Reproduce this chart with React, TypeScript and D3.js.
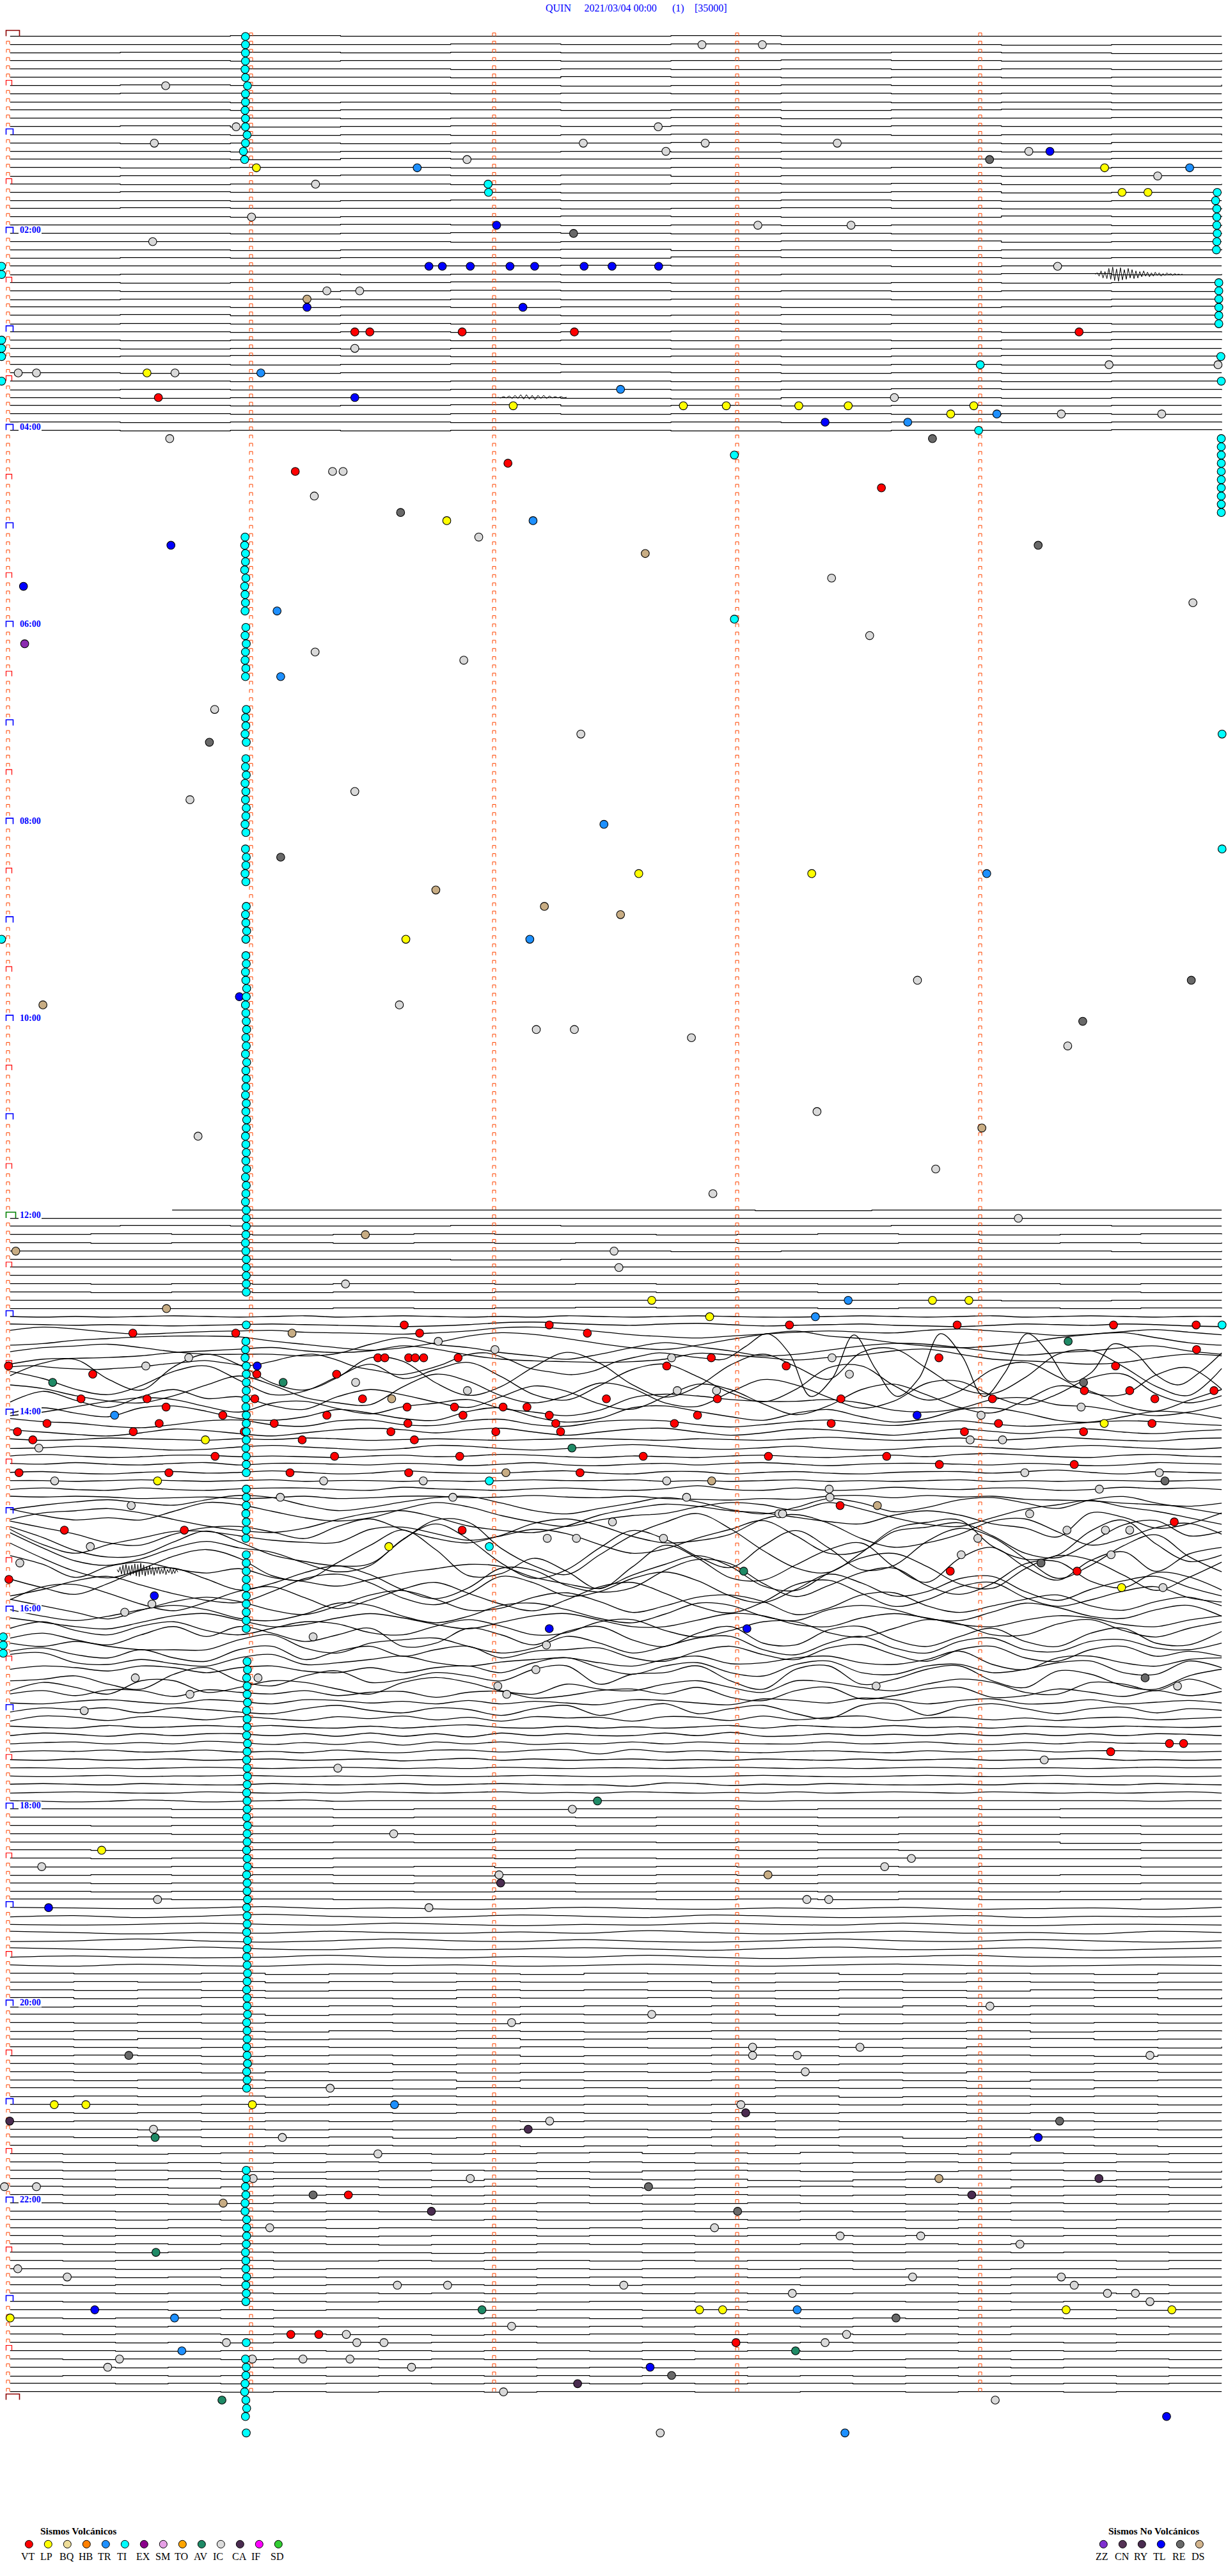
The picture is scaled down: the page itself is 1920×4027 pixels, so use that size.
import React from 'react';
import * as d3 from 'd3';

type Ev = [number, number]; // [row (5 min lines), seconds into the row]

const W = 1920;
const H = 4027;
const SERIF = '"Liberation Serif", serif';

// one trace line every 5 minutes, from 00:00 to 24:00
const ROW_COUNT = 289;
const hourLabels = ['02:00', '04:00', '06:00', '08:00', '10:00', '12:00', '14:00', '16:00', '18:00', '20:00', '22:00'];
const tickMinutes = [0, 1, 2, 3, 4];

const volcanicNames = ['VT', 'LP', 'BQ', 'HB', 'TR', 'TI', 'EX', 'SM', 'TO', 'AV', 'IC', 'CA', 'IF', 'SD'];
const volcanicColors = ['#ff0000', '#ffff00', '#eedd99', '#ff8000', '#1e90ff', '#00ffff', '#8b008b', '#e6a0e6', '#ffa500', '#1f8a66', '#dcdcdc', '#4a2c50', '#ff00ff', '#32cd32'];
const otherNames = ['ZZ', 'CN', 'RY', 'TL', 'RE', 'DS'];
const otherColors = ['#7f2fd0', '#553355', '#4a2c50', '#0000ff', '#696969', '#d2b48c'];

// small step offsets of the quiet lines, 00:00 to 04:00
const earlyTraces: number[][] = [
  [0, 0, -1, 0, 0, 0, -1, 0, 0, 0, 0, 0],
  [0, 0, 0, 0, -1, 0, -1, 0, 0, 1, 0, 1],
  [0, -1, -1, 0, -1, 0, 0, 0, -1, 0, 1, 0],
  [0, 0, 1, 0, 0, 1, 0, -1, 0, 1, 1, 0],
  [0, 0, 0, 0, 1, 0, 1, 0, 1, 0, 1, 0],
  [0, 0, 0, 0, 1, -1, 0, 1, 0, 1, 0, 0],
  [0, -1, 0, 0, 0, 1, 0, -1, 0, 0, 1, -1],
  [0, -1, -1, -1, 0, -1, 0, -1, 0, -1, 0, 0],
  [0, 0, 1, 0, 0, 1, 1, 0, 1, 0, 1, 0],
  [0, 0, 1, 0, 0, 1, 0, 1, 0, -1, 0, -1],
  [0, 0, 0, 1, 0, 0, -1, 1, 0, 0, -1, 1],
  [0, -1, 1, 0, -1, 0, -1, 0, -1, 0, 0, 1],
  [0, 0, 1, 0, 1, 0, -1, 0, 1, 0, -1, 1],
  [0, 1, 0, 1, 0, 0, -1, 0, 0, 1, -1, 0],
  [0, 0, 1, 0, 1, 0, 1, 0, 0, 1, 0, -1],
  [0, 0, 1, -1, 0, 0, -1, 0, 0, 0, -1, 0],
  [0, 1, 0, 0, 1, 1, 0, 1, 0, 1, 0, 0],
  [1, 0, 0, -1, 0, -1, 1, 0, 0, 1, 0, 0],
  [0, 1, 0, 0, 1, 0, -1, 0, -1, 1, 1, 0],
  [0, -1, 0, 0, 0, 1, 1, 0, -1, 1, 0, 0],
  [0, 0, 1, 0, -1, 0, 0, -1, 0, 1, 0, 0],
  [0, -1, 0, 0, 0, 1, 0, -1, 0, 1, 1, 0],
  [0, 0, 1, 0, 0, -1, 0, 1, 1, -1, 0, -1],
  [0, 0, 0, -1, 0, 1, 0, 1, 0, 0, 1, 0],
  [0, 0, 1, 0, -1, 0, 1, 0, 1, 1, 0, 1],
  [0, 0, 0, 0, 1, 0, 0, -1, -1, 1, 0, 0],
  [0, 0, 1, 0, 0, -1, 1, 0, 1, 0, 0, -1],
  [1, 0, 1, 0, 0, 1, -1, 0, 0, 1, 0, 0],
  [0, 0, 0, 0, 0, -1, 0, 0, 1, 0, 0, 0],
  [1, 0, 0, 1, 0, 1, 1, 0, 0, -1, 1, 0],
  [0, 1, 0, 0, -1, 0, 1, 1, 0, 1, 0, 0],
  [0, 1, 1, 0, -1, 0, 1, 0, 1, 0, 1, 1],
  [1, 0, 0, 1, 0, 1, 0, 0, 1, 1, 0, 0],
  [0, 0, 1, 0, 1, 0, 0, 1, 1, 0, -1, 0],
  [0, -1, 1, 0, 0, 1, 0, -1, 0, 0, 0, 1],
  [1, 0, 1, 0, 1, 0, 0, 1, 0, 0, 1, 0],
  [0, 0, 1, 0, 1, 0, -1, 0, 0, 1, 0, 1],
  [0, 1, 0, 0, 1, 0, 1, 0, 1, 0, -1, 0],
  [0, 1, 0, 1, 0, 0, 1, 1, 0, 1, 0, 0],
  [1, 0, -1, 0, 1, 1, 0, 1, 0, -1, 0, 0],
  [0, 0, 1, 0, -1, 0, 0, 1, 0, 1, 1, 0],
  [0, 1, 1, 0, 0, -1, 0, 1, 0, 1, 0, 0],
  [0, 0, 1, 1, 0, 0, 1, 0, 0, 1, 0, 1],
  [1, 0, 1, 1, 0, 0, 1, 0, -1, 0, 0, 1],
  [0, 1, 0, 0, 0, 1, 2, 0, 0, 1, 0, 0],
  [0, 0, 1, 0, -1, 1, 0, 1, 0, 1, 0, 0],
  [0, 0, 1, 1, 0, 1, 0, 0, 1, 0, 1, 0],
  [0, 1, 0, 0, 1, 1, 0, 1, 0, 1, 0, 1],
  [0, 1, 0, 1, 0, 0, 1, 1, 0, 0, -1, 0],
];

// 11:55 starts late in the line, then the quiet lines up to 12:55
const noonStartSec = 40.6;
const noonTraces: number[][] = [
  [0, 0, 0, 0, 0, 1, 0, 0, 0, 0],
  [0, 0, 0, 0, 0, 0, 0, 0, 0, 0],
  [0, -1, 0, 0, -1, 0, 0, 0, -1, -1, 0, 0],
  [0, -1, 0, 1, 0, -1, 0, 0, 1, 0, -1, 0, 1, 0, -1, 0],
  [0, 1, 0, 0, 1, 0, 1, 0, 0, 1, 1, 0, 1, 0, 1, 0],
  [0, 0, 0, 0, 0, 0, 1, 0, 0, 0, 1, 0],
  [0, 0, 0, 0, 1, 0, 0, 0, 0, 0, 0, 0],
  [0, 0, 0, 0, 0, 0, 0, 0, 0, 0, 0, -1],
  [0, 0, 0, 0, 0, 0, 0, 0, 0, 0, 0, -1],
  [0, 1, 0, 1, 0, 0, 1, 0, 1, 0, 1, 0, 0, 1, 0, 0],
  [0, 1, 0, 1, 0, 1, 0, 0, 1, 0, 1, 1, 0, 0, 1, 0],
  [0, 0, 0, 0, 0, 0, 0, 0, 0, 1, 0, 0],
  [0, 0, 0, 0, -1, 0, -1, -2, -1, -1, 0, -1, -1, 0, -1, 0],
];

// smooth wave lines from 13:00 on, offsets in px at even steps along the line
const waveTraces: number[][] = [
  [0, 1, 0, 1, 0, -1, 0, 1, 0, -1, 1, 0, -1, 0, 1, 0, 1, -1, 0, 1, 0, -1, 0, 1, 1, 0, -1, 0, 1, 0, -1, 1, 0, -1, 0, 1, 0, 0],
  [-1, 0, 1, 0, 1, 2, 1, 0, -1, 0, 1, 2, 3, 2, 0, -3, -4, -2, 0, 1, -1, -2, 0, 2, 1, 0, -1, 1, 2, 3, 1, -1, 0, 1, -1, 0, 2, 3],
  [-4, -9, -6, -1, 2, 0, -2, -3, -4, -1, 0, 1, 2, 0, -3, -8, -9, -6, -2, 3, 6, 8, 5, 2, -1, -3, -1, 0, -4, -6, -3, 0, 4, 2, -2, -5, -1, 3],
  [5, 3, -1, -3, -5, -6, -6, -5, 0, 4, 8, 11, 8, 2, -6, -10, -8, -3, 3, 8, 10, 5, -2, -8, -12, -6, -3, 2, 6, 8, 6, 2, -4, -8, -10, -4, 2, 5],
  [3, -2, -4, -6, -2, 3, 6, 6, 6, 8, 5, -6, -14, -6, -2, 4, 8, 12, 6, -2, -8, -3, 2, 8, 6, 1, -4, -7, -6, -2, 3, 7, 4, 2, -2, -4, 2, 6],
  [8, 2, 1, 0, -2, -6, -8, -10, -12, -8, -6, -8, -14, -10, -3, 2, 4, 5, 6, 5, 2, -5, -3, 0, 3, 0, -3, -8, -10, -4, 2, 4, 6, 8, 6, 0, -4, -2],
  [2, 0, 3, 5, 6, 4, 2, -2, -5, -8, -4, 0, -6, -14, -18, -10, 2, 8, 14, 8, -2, -16, -20, -10, 4, 10, 14, 8, -6, -14, -20, -16, -12, -10, -30, -50, -20, 48, 20, -48, 5, 48, 20, -50, -15, 48, 10, -50, -20, 25, 10, -34, -20, 15, 30, 10, -20],
  [2, -12, -16, 6, 18, -8, -22, -10, 10, 18, 4, -18, -14, 10, 24, 14, -8, -24, -12, 12, 26, 14, -10, -22, -8, 6, -24, -28, -6, 16, 22, 4, -22, -26, -8, 14, 24, -6],
  [-12, -4, 8, 14, 4, -12, -18, -2, 14, 10, -6, -20, -4, -14, -22, -6, 14, 20, 4, -14, -20, -6, 12, 22, 8, -16, -18, 4, 20, 10, -14, -22, -6, 12, 14, -8, -16, 8],
  [-6, -2, 6, 12, 14, 6, -6, -16, -6, 8, 14, 16, -4, -18, -10, 6, 14, 6, -8, -2, 14, 18, 2, -12, -6, 8, 20, 12, -8, -10, 6, 16, 4, -14, -18, 4, 14, 6],
  [4, -8, 2, 10, -2, -10, 0, -2, 8, 12, -2, -10, -4, 4, 10, -2, -14, -8, 6, 12, -2, -16, -10, 6, 18, 8, -10, -16, -4, 10, 16, 2, -14, -8, 8, 14, 2, -10],
  [10, 6, 0, -6, -10, -8, 0, 6, -4, -6, 2, 8, 0, -4, -8, 2, 6, 10, 4, -10, -14, -12, -8, -6, -6, -8, -4, 4, 6, 2, -8, -10, -2, 0, 6, 10, 6, -2],
  [-2, -8, -2, 2, -8, -10, -4, 4, 6, 2, -6, -2, 4, 6, -4, -8, 2, 8, 4, -8, -10, -4, 2, 6, -2, -6, 2, 8, 4, -6, -8, -2, 6, 8, 2, -4, -2, 4],
  [-6, -2, 0, 4, 6, 2, -3, -4, 2, 4, -3, -4, 2, 3, -3, -5, 2, 4, -2, -4, -3, 2, 5, 2, -2, -4, 0, 3, -1, -3, 1, 4, 2, -1, -3, -2, 1, 3],
  [-2, 1, 4, 6, 2, -3, -1, 3, 6, 2, -2, -4, -2, 2, -2, -4, 1, 5, 1, -3, -4, 1, 5, 2, -3, -2, 2, 5, 1, -3, 0, 3, -1, -3, 1, 3, 0, -2],
  [-1, 1, 0, -2, -1, 0, 1, -1, 0, -2, -1, 1, 0, -1, 0, 1, 0, -1, -1, 0, 1, -1, 0, 1, -1, -3, -1, 1, 0, -2, 1, -1, -3, -1, 1, 2, -1, -2],
  [1, 0, -2, -1, 1, 3, 2, -1, -3, -1, 1, 3, 1, -3, -2, 1, 3, 1, -2, -4, -2, 1, 2, 0, -2, 1, 3, 2, -1, -2, 0, 2, -1, -3, -1, 1, 2, 0],
  [0, -2, 0, 2, 1, -1, -1, 1, 0, 1, 2, 0, -1, 1, 0, -2, -1, 1, 2, 0, 1, 2, 0, -1, 1, 2, 0, -1, 1, -2, -3, -1, 1, 2, -1, -2, 0, 1],
  [-1, 0, -2, 0, 1, -1, -2, 1, -1, -1, 0, 1, -1, 0, 2, 0, -2, 1, 2, 0, -1, 1, -1, -2, 0, 2, 0, -1, -1, 0, 1, -1, 0, 2, 1, -2, -1, 0],
  [0, -1, 1, 2, 0, -1, 1, 0, -2, 0, 2, 1, -2, 0, 1, 1, -1, -2, 1, 2, -1, -1, 2, 0, -1, 1, 2, 0, -1, -1, 1, -1, -3, 0, 2, -1, 0, 1],
  [0, 0, 1, 0, -1, 0, 1, 0, -1, 1, 0, 0, 1, 0, 1, 0, -1, 0, 0, -1, 1, 0, 1, 0, -1, 1, 0, 1, 0, -1, 1, 0, 1, 0, 0, 1, 0, -1],
  [1, -1, 1, 2, -1, 1, 2, 0, -1, -1, 1, 2, -2, 0, 1, 2, 0, -1, 1, 2, 0, -4, 1, 2, -1, 2, 1, -2, 0, 1, -1, -1, 2, 1, -2, 0, -1, 1],
  [-1, 0, -1, 0, 2, 1, 0, 2, 1, -1, 2, 1, -1, -1, 1, 0, -2, 0, 1, -1, 2, 3, 4, 2, 3, -1, -2, 1, -2, 0, -1, 3, 4, 5, 8, 10, 12, 8],
  [4, 0, -3, -5, -2, 0, -5, -9, -7, 0, 5, 2, -3, -7, -8, -2, 5, 8, 3, -2, -7, -3, 4, 8, 2, -6, -2, 6, 2, -5, -7, -2, 3, -5, -8, -2, 3, 8],
  [-4, 2, 6, 4, 6, -2, -10, -8, -2, 4, 7, 4, -4, -10, -6, 2, 8, 12, 6, 2, 0, -6, -10, -8, -3, -10, -4, 4, 10, 12, 4, -4, -8, -12, -6, -2, 4, 10],
  [-2, -8, -10, -12, -8, -2, 4, 8, 10, 6, -2, -8, -10, -4, 4, 8, 10, 4, -6, -12, -16, -14, -10, -8, -4, 0, 2, -6, -10, -6, 2, 6, 14, -8, -4, 6, 2, -8],
  [-8, -2, 4, 12, 14, 4, -2, -3, 2, 8, -3, -10, 0, 8, 12, 5, -6, -10, -4, 6, 12, 10, 4, -10, -14, -6, 8, 16, 12, 4, -8, -10, 2, 14, 8, -2, -6, 4],
  [-8, 6, 14, 6, 0, -6, -6, -2, 2, 4, 4, -8, -10, -4, 2, -2, -8, -4, 6, 14, 10, 0, -8, -16, -2, 14, 12, -6, -10, -14, -2, 14, 18, 4, -12, -16, -2, -6],
  [-18, -8, 4, 10, 8, -4, -14, -4, 8, 14, 18, 16, -6, -24, -22, 2, 18, 26, 8, -10, -22, -30, -16, 4, 20, 24, 6, -16, -22, -24, 0, 12, 8, -14, -24, -2, 14, 8],
  [-20, -6, 6, 10, 4, -6, -12, -6, -2, 8, 16, 10, -14, -28, -14, 8, 22, 14, -6, -22, -14, 2, 12, -8, -22, -6, 14, 10, -12, -24, -16, 4, 22, 10, -8, -18, 2, 16],
  [-18, -4, 8, 14, 6, -6, -12, -4, 12, 16, 0, -16, -30, -12, 12, 10, -4, 8, 24, 4, -16, -4, 14, 16, 2, -12, -18, 4, 18, -4, -14, 4, 16, -2, -10, 8, -8, -14],
  [-14, -6, 6, -4, -8, -2, 2, -2, 6, 10, 14, 8, 2, -2, -6, -4, 6, 12, 16, 4, -6, -14, -4, 14, 18, 2, -12, -16, -4, 12, 16, -2, -14, -10, 4, 18, 6, -8],
  [0, 8, 14, 4, -8, -10, 0, 10, 4, -6, -12, -4, 10, 18, 8, -10, -8, 6, 12, 8, -8, -18, -14, 4, 16, 6, -6, -10, 6, 14, 4, -14, -16, 2, 8, -6, -2, 10],
  [8, 2, -6, -10, -2, 6, 12, 14, 4, -8, -12, -4, 10, 16, 6, -10, -4, 8, 4, -8, -14, -6, 8, 14, 2, -12, -4, 8, 4, -8, -10, 4, 12, 2, -6, -10, 0, 8],
  [4, -8, -10, -2, 8, 14, 6, -4, -8, 2, 12, 4, -6, -12, -2, 8, 14, 4, -8, -12, -2, 10, 16, 6, -10, -14, -2, 10, 4, -8, -12, 2, 10, 4, -4, -8, 2, 6],
  [-4, 2, 8, 14, 6, -2, -6, -2, 6, 10, 2, -8, -12, -4, 6, 4, -6, -10, -2, 8, 2, -6, -8, -2, 10, 4, -8, -10, 2, 8, 2, -4, -8, 2, 6, -2, -6, 2],
  [-2, 4, 8, 4, -2, -6, -2, 6, 8, 2, -8, -6, 4, 10, 4, -6, -8, -2, 6, 10, 2, -8, -6, 4, 8, -2, -6, -2, 6, 8, 0, -8, -4, 4, 6, -2, -6, 4],
  [-2, 2, 6, 8, 2, -4, -6, 0, 6, 4, -2, -6, -2, 4, 8, 2, -4, -6, 0, 6, 6, 0, -6, -4, 4, 6, -2, -6, -2, 4, 6, 0, -4, -2, 4, 6, 0, -4],
  [0, -6, 2, 6, -2, -6, 2, 6, 0, -6, -4, 4, 6, -2, -8, -2, 6, 4, -6, -8, 2, 8, 2, -6, -6, 4, 8, 0, -8, -4, 6, 6, -4, -8, 2, 8, 0, -6],
  [2, -4, 4, 10, -2, -12, 0, -12, -4, 6, -2, -10, 12, 8, -10, -2, 10, -6, -12, 4, 12, -4, -12, 8, 10, -8, -12, 4, 12, 0, -10, 6, 12, -4, -10, 8, 10, -6],
  [-2, 2, -4, 2, 6, 6, 6, -6, -12, 4, 10, -2, -6, -8, 2, 10, 4, -10, -2, 10, 2, -8, -10, 6, 12, -2, -10, 4, 10, -4, -8, 6, 8, -4, -6, 4, 6, -2],
  [-2, -6, 2, 6, -4, 6, 10, -4, -8, 8, -2, -8, 4, -4, -8, 6, -2, -4, -6, 6, 10, -2, -8, 2, 8, -6, -10, 2, 10, -4, -8, 6, 10, -4, -8, 4, -2, 4],
  [-8, -10, 2, 4, -2, 3, 6, -4, -8, 4, 2, -2, -6, 2, 6, 1, -2, -4, 2, 6, -2, -6, 3, 2, -4, -6, 2, 4, -2, -12, 4, 10, -4, -6, 2, 6, -2, -4],
  [0, -4, -2, 2, -4, -2, 4, -2, -4, 2, 4, -2, 4, -2, -4, 4, -8, -14, -2, 6, -4, -8, 4, 8, -6, -10, 4, 6, -4, -6, 4, 0, -8, -10, 4, 6, -10, -2],
  [4, 2, -2, 8, 14, -4, -12, 4, 10, -2, -8, 6, 2, -6, -2, 4, -10, -14, 8, -4, -6, -14, 4, 14, -10, -14, 8, 2, -10, -14, 4, 12, -8, -4, 10, 14, -2, -10],
  [6, -4, 2, 10, -6, -6, 8, 2, -6, -4, 4, 10, -4, -10, -4, 6, 10, -2, 4, 6, -2, -6, 2, 8, -6, -4, 2, 6, -2, -8, -4, 8, 10, -4, -2, 6, -8, 4],
  [0, -4, 2, -5, -4, 3, -5, -2, 0, -4, 2, -2, -3, 4, -2, -3, 5, 2, -4, -6, 0, -8, 4, 8, -4, -8, 6, 2, -6, -8, 4, 2, -6, -2, 3, -4, 2, -3],
  [1, 2, -1, -3, 0, 2, -3, -1, 2, -3, -2, 1, -1, 2, -2, 2, -1, 1, 3, -3, -2, 1, 3, -4, -2, 1, -5, -3, 2, -2, -4, 2, 1, -3, 2, 0, -2, 1],
  [2, -3, -1, -3, 3, -3, -1, 2, 4, -2, -6, 0, 3, -3, -1, 6, -2, -6, 6, -2, -8, 4, -2, -6, 4, 10, -6, -8, 6, -4, -8, -2, 4, -2, -4, 3, -2, 0],
  [4, -4, -2, 3, -3, -2, 2, -3, 0, 3, -3, 0, -4, 2, -2, 4, -3, -1, -2, 4, -3, -2, 3, -4, 2, -2, -4, 3, -1, -2, 2, -1, 3, -1, -2, 2, 0, -2],
  [-1, 1, 2, -2, 1, 0, -2, 0, -2, 1, 2, -1, 2, -1, -3, 1, 2, -1, 2, 0, 2, 0, -2, 2, -2, 0, 1, -2, 1, 0, 2, -1, 0, 1, -1, 0, 1, -1],
  [1, -3, -1, 2, -2, 1, -2, -2, 1, -2, 2, -3, 2, -2, 3, -3, 1, -2, 1, 1, -3, 1, -4, 2, 1, -2, 1, -1, 1, -2, 1, -2, 1, -2, 1, -2, -1, 1],
  [1, -1, -2, 1, -1, 1, -3, -1, 2, -1, 2, -2, 3, -2, 1, -2, 2, 0, 1, -2, 1, -2, 0, 1, 1, -2, 1, 0, -2, 1, 2, -1, 1, -2, 0, 0, 1, 1],
  [1, -1, 0, -2, 1, 0, -2, 1, 0, 2, -2, 1, 2, -2, -2, 1, -2, -3, 4, -3, 1, -1, 1, 2, 0, -1, 1, 2, -1, 1, -1, -2, 1, -1, -1, 0, 1, 0],
  [0, 1, -1, 1, 0, -1, 1, 0, -1, 1, 0, -1, 2, 0, -2, 1, -1, 1, 0, -1, 1, 0, 1, -1, 0, 1, -1, 1, 0, -1, 1, 0, -1, -2, 1, 0, 1, 0],
  [0, 0, 1, 0, 1, 0, -1, 0, 1, 0, -1, 0, 1, 0, 1, -1, 0, 1, 0, 0, 1, 0, -1, 0, 1, 0, 1, 0, -1, 0, 1, 0, 0, 1, 0, -1, 0, 0],
  [0, 1, 0, -1, 1, 0, 0, -1, 0, 1, 0, 1, -1, 0, 1, 0, -1, 0, 1, 0, 0, 1, 0, -1, 0, 1, 1, 0, -1, 0, 1, 0, -1, 1, 0, 0, 1, 0],
  [0, -1, 0, 1, -1, 0, 1, 1, -1, 0, 1, 0, -1, 1, 0, -1, 0, 1, 1, 3, -2, -1, 2, 0, 1, -1, 0, 1, 1, 0, 1, -1, -1, 0, 1, -1, 0, 1],
  [1, 0, -1, 0, 1, 1, -1, 0, 1, 0, 1, -1, 0, 1, 0, -1, 1, 0, 1, -1, 0, 1, 0, 1, -1, 1, 0, -1, 0, 1, -1, 0, 1, 0, 1, 0, -1, 1],
  [0, 1, 2, 1, -1, 0, 2, 1, 0, -1, 1, 0, 0, 0, 0, 0, 0, 0, 0, 0, 0, 0, 0, 1, 0, 0, 0, 0, 0, 0, 0, 0, 0, 0, 0, 1, 0, 0],
];
// display gain by band of rows: [first row, last row, gain]
const waveBandGain: [number, number, number][] = [
  [159, 161, 1.3], [163, 168, 1.4], [169, 178, 1.2], [179, 194, 1.7], [195, 204, 1.3],
];

// the lines from 18:00 to 24:00: step lines, with gentle bumps
const lateTraces: number[][] = [
  [0, 0, 1, 0, 1, 0, 1, 0, 0, 1, 0, 0, 1, 0, 0, 0],
  [0, 0, 1, 0, 1, 0, 0, 1, 0, 0, 1, 0, 0, 1, 1, 0],
  [0, 1, 0, 1, 0, 0, 0, 1, 0, 0, 1, 1, 0, 0, 1, 0],
  [0, 0, 1, 0, 0, 1, 0, 0, 0, 0, 1, 0, 1, 0, 1, 0],
  [0, 0, 0, 1, 0, 1, 0, 0, 1, 0, 1, 0, 0, 2, 1, 0],
  [0, 1, 1, 0, 0, 0, 1, 0, 0, 1, 0, 1, 0, 0, 1, 0],
  [0, 1, 0, 1, 0, 0, 1, 0, 1, 1, 0, 0, 1, 1, 0, 0],
  [1, 1, 0, 2, 1, 0, 2, 1, 0, 1, 0, 1, 0, 0, 1, 0],
  [1, 0, 1, 0, 1, 2, 0, 1, 0, 1, 0, 1, 1, 0, 1, 0],
  [0, 1, 0, 0, 1, 0, 0, 1, 0, 1, 0, 0, 1, 1, 0, 0],
  [0, 1, 0, 0, 0, 1, 0, 1, 0, 0, 1, 0, 1, 0, 0, 0],
  [0, 0, 1, 0, 1, 1, 0, 0, 1, 0, 1, 0, 1, 1, 0, 1],
  [0, 1, 2, 1, -1, 2, 1, 3, 2, 0, 2, 3, 1, 2, 0, 3, 2, 1, 3, 0],
  [2, 0, 3, 1, -2, 1, 3, 2, -1, 1, 3, -1, 1, 3, 2, 0, 3, 1, 2, 1],
  [1, 2, 1, -1, 1, 2, -1, 1, 3, 1, 2, -1, 1, 2, -1, 2, 3, 1, 1, 2],
  [-1, 1, 3, 1, 2, -1, 1, 2, 0, 2, -2, 1, 3, 1, -1, 2, 1, 3, -1, 1],
  [2, 1, -2, 1, 3, 1, -2, 1, 2, -1, 2, 3, 1, -2, 1, 2, -1, 1, 3, 1],
  [-1, 1, 2, -2, 1, 2, -1, 2, 1, -1, 1, 3, 0, -2, 2, 1, -1, 3, 1, -1],
  [1, -1, 1, 2, 1, -2, 1, 2, 0, 1, -2, 1, 3, 1, 0, -2, 1, 2, 1, 0],
  [0, 2, -1, 1, 2, -1, 1, 0, 2, 1, -1, 1, 2, 0, -1, 1, 2, 1, 0, 1],
  [0, 1, 1, 0, 2, 1, 0, 1, 2, 0, 1, 1, 0, 2, 1, 0, 1, 2, 0, 1],
  [1, 0, 1, 0, 2, 0, 1, 0, 1, 1, 0, 2, 1, 0, 1, 0, 1, 2, 1, 0],
  [0, 1, 0, 1, 2, 1, 1, 0, 1, 0, 1, 2, 1, 0, 1, 2, 0, 1, 0, 1],
  [0, 2, 1, 0, 1, 1, 2, 0, 1, 1, 0, 1, 2, 1, 0, 1, 1, 0, 2, 0],
  [2, 1, 0, 1, 1, 0, 1, 2, 1, 0, 1, 0, 1, 2, 0, 1, 0, 1, 1, 0],
  [0, 0, 1, 0, 2, 1, 0, 1, 0, 1, 1, 0, 2, 0, 1, 1, 0, 0, 1, 0],
  [0, 1, 0, 1, 0, 0, 1, 2, 0, 1, 0, 1, 1, 2, 1, 0, 1, 0, 1, 0],
  [1, 0, 1, 1, 2, 0, 1, 0, 1, 2, 1, 0, 0, 1, 1, 0, 2, 1, 0, 1],
  [1, 2, 0, 1, 2, 1, 1, 0, 2, 1, 0, 1, 2, 1, 0, 1, 0, 2, 1, 1],
  [0, 1, 2, 1, 0, 1, 1, 2, 0, 1, 2, 1, 0, 1, 2, 0, 1, 1, 2, 0],
  [1, 0, 1, 2, 1, 0, 1, 0, 2, 1, 1, 0, 1, 2, 1, 0, 1, 2, 0, 1],
  [0, 1, 0, 1, 1, 0, 2, 1, 0, 1, 0, 1, 2, 1, 0, 1, 1, 0, 1, 0],
  [0, 1, 1, 2, 0, 1, 0, 2, 1, 0, 1, 0, 1, 1, 2, 0, 1, 0, 1, 0],
  [0, 1, 0, 0, 1, 1, 0, 2, 0, 1, 1, 0, 1, 0, 1, 2, 0, 1, 0, 0],
  [0, 0, 1, 1, 0, 1, 2, 0, 1, 0, 1, 1, 0, 1, 0, 1, 2, 0, 0, 1],
  [1, 0, 1, 0, 2, 1, 0, 1, 1, 0, 1, 1, 0, 2, 1, 0, 1, 0, 1, 0],
  [0, 0, 1, 0, 1, 0, 0, 1, 1, 0, 1, 0, 0, 1, 0, 1, 0, 0, 1, 0],
  [0, 1, 0, 1, 0, 0, 1, 0, 0, 1, 1, 0, 1, 0, 0, 1, 0, 1, 0, 0],
  [1, 0, 0, 1, 0, 1, 0, 0, 1, 0, 0, 1, 0, 1, 1, 0, 0, 1, 0, 0],
  [0, 0, 1, 0, 1, 0, 1, 1, 0, 0, 1, 0, 1, 0, 0, 0, 1, 0, 1, 0],
  [0, 1, 0, 1, 1, 0, 2, 1, 1, 0, 1, 0, 1, 0, 2, 1, 0, 1, 1, 0],
  [0, 0, 1, 2, 1, 0, 1, 1, 2, 1, 0, 1, 0, 1, 2, 1, 0, 1, 2, 1],
  [0, 1, 1, 0, -1, 0, 1, 0, 1, 0, -1, -2, 0, -1, 0, -2, -1, 0, 1, -1, 0, 1, 0, -1],
  [0, 1, 2, 1, 2, 1, 0, 1, 2, 2, 1, 0, 1, 2, 3, 2, 1, 0, 1, 2, 1, 0, 1, 0],
  [0, 1, 0, 1, 2, 3, 2, 1, 0, 1, 2, 3, 1, 0, 1, 2, 3, 2, 1, 0, 1, 2, 3, 1],
  [0, 1, 2, 0, 1, 0, 1, 2, 3, 1, 0, 1, 2, 1, 3, 4, 2, 1, 1, 2, 3, 2, 1, 1],
  [0, 1, 2, 3, 1, 0, 1, 2, 1, 0, 1, 2, 3, 2, 1, 0, 1, 2, 3, 1, 0, 1, 2, 0],
  [0, 1, 0, 1, 2, 1, 0, 1, 2, 1, 1, 2, 1, 0, 1, 2, 1, 0, 1, 2, 1, 0, 1, 1],
  [0, 1, 1, 2, 1, 0, 1, 1, 2, 1, 0, 1, 2, 1, 0, 1, 1, 2, 1, 0, 1, 2, 1, 0],
  [0, 0, 1, 1, 0, 1, 0, 1, 0, 0, 1, 1, 0, 1, 1, 0, 1, 0, 1, 0, 1, 1, 0, 0],
  [0, 0, 1, 0, 1, 1, 0, 0, 1, 0, 1, 1, 0, 0, 1, 0, 0, 1, 0, 1, 1, 0, 0, 0],
  [0, 0, 1, 0, 0, 0, 1, 0, 0, 0, 1, 0, 1, 1, 0, 0, 0, 1, 0, 0, 1, 0, 0, 0],
  [0, 1, 0, 0, 1, 1, 2, 1, 0, 0, 1, 0, 0, 1, 0, 0, 1, 0, 0, 1, 0, 1, 0, 0],
  [0, 1, 0, 1, 0, 0, 1, 2, 1, 1, 0, 1, 0, 1, 1, 0, 1, 0, 1, 0, 0, 1, 1, 0],
  [0, 0, 1, 0, 0, 1, 1, 1, 2, 1, 0, 0, 1, 0, 0, 0, 1, 0, 0, 1, 0, 0, 1, 0],
  [0, 1, 0, 0, 0, 1, 1, 0, 1, 0, 0, 1, 0, 1, 0, 0, 1, 1, 0, 0, 0, 1, 0, 0],
  [0, 0, 1, 1, 0, 1, 0, 0, 0, 1, 0, 1, 0, 0, 1, 0, 1, 0, 1, 0, 0, 1, 0, 0],
  [0, 0, 1, 0, 1, 0, 1, 0, 0, 0, 1, 0, 1, 0, 1, 0, 0, 0, 1, 0, 1, 0, 0, 0],
  [0, 1, 0, 0, 1, 1, 0, 0, 0, 1, 0, 1, 0, 0, 0, 1, 1, 0, 1, 0, 0, 0, 1, 0],
  [0, 0, 1, 0, 0, 1, 0, 1, 0, 1, 0, 0, 1, 0, 1, 1, 0, 0, 1, 0, 0, 1, 0, 0],
  [0, 1, 1, 0, 0, 0, 1, 0, 0, 1, 1, 0, 0, 1, 0, 0, 0, 1, 0, 1, 0, 0, 1, 0],
  [0, 0, 0, 1, 0, 1, 0, 0, 0, 1, 0, 0, 1, 0, 1, 0, 0, 0, 1, 0, 0, 1, 0, 0],
  [0, 1, 0, 0, 1, 0, 0, 1, 1, 0, 0, 1, 0, 0, 0, 1, 0, 1, 0, 0, 1, 0, 0, 0],
  [0, 0, 1, 0, 0, 1, 1, 0, 0, 0, 1, 0, 1, 0, 0, 1, 0, 0, 1, 0, 0, 0, 1, 0],
  [0, 1, 0, 0, 1, 0, 1, 1, 2, 1, 1, 0, 0, 1, 0, 0, 1, 0, 1, 0, 0, 1, 0, 0],
  [0, 0, 1, 0, 1, 0, 0, 1, 0, 0, 1, 1, 0, 0, 1, 0, 1, 1, 0, 0, 1, 0, 0, 0],
  [0, 0, 1, 1, 0, 0, 1, 0, 1, 0, 0, 1, 0, 1, 0, 1, 0, 0, 1, 0, 1, 0, 0, 0],
  [0, 1, 0, 0, 1, 0, 0, 1, 0, 1, 0, 0, 1, 0, 0, 1, 1, 0, 0, 1, 0, 0, 1, 0],
  [0, 0, 1, 0, 0, 1, 0, 1, 0, 0, 1, 0, 1, 1, 0, 0, 0, 1, 0, 1, 0, 0, 1, 0],
  [1, 0, 0, 1, 0, 0, 1, 0, 0, 1, 0, 1, 0, 0, 1, 0, 1, 0, 1, 0, 0, 1, 0, 0],
  [0, 0, 1, 0, 1, 1, 0, 0, 1, 0, 0, 1, 0, 1, 0, 0, 1, 0, 0, 1, 0, 1, 0, 0],
  [0, 0, 0, 0, 1, 0, 1, 0, 0, 1, 0, 0, 0, 1, 1, 0, 0, 1, 0, 0, 1, 0, 0, 0],
];
const FIRST_WAVE_ROW = 156;
const FIRST_LATE_ROW = 216;

// jagged seismic bursts: [row, first second, last second, offsets]
const burstRows: [number, number, number, number[]][] = [
  [29, 268.5, 290, [0, -2, 3, -5, 6, -4, 7, -9, 8, -11, 10, -8, 11, -10, 9, -7, 8, -9, 6, -7, 7, -5, 6, -4, 4, -5, 3, -3, 4, -2, 3, -3, 2, -2, 3, -1, 2, -2, 1, -1, 2, -1, 1, 0, 1, 0]],
  [44, 121, 138, [0, 1, -1, 1, -2, 2, -3, 2, -4, 3, -4, 3, -3, 4, -3, 2, -3, 2, -2, 1, -1, 1, -1, 1, 0]],
  [187, 27, 42, [-2, 2, -6, 5, -9, 6, -10, 4, -8, 7, -9, 5, -11, 8, -10, 9, -12, 6, -9, 8, -7, 6, -8, 5, -6, 7, -5, 4, -6, 5, -3, 4, -5, 6, -2, 3, -4, 5, -2, 4, -3, 2]],
];

// TI events of the dense column near the end of the first minute: [first row, seconds...]
const tiColumn: [number, number[]][] = [
  [0, [58.7, 58.7, 58.7, 58.7, 58.6, 58.7, 59.2, 58.7, 58.7, 58.6, 58.7, 58.7, 59.1, 58.7, 58.2, 58.5]],
  [61, [58.6, 58.5, 58.7, 58.7, 58.5, 58.8, 58.5, 58.6, 58.7, 58.6]],
  [72, [58.8, 58.6, 58.9, 58.7, 58.6, 58.8, 58.7]],
  [82, [58.9, 58.7, 58.8, 58.6, 58.9]],
  [88, [58.8, 58.7, 58.9, 58.6, 58.8, 58.7, 58.9, 58.8, 58.6, 58.8]],
  [99, [58.7, 58.9, 58.8, 58.6, 58.8]],
  [106, [58.9, 58.7, 58.8, 59, 58.8]],
  [112, [58.8, 58.9, 58.7, 58.8, 59, 58.9, 58.7, 58.8, 58.9, 59, 58.8, 58.9, 58.7, 59, 58.8, 58.9, 58.8, 58.7, 58.9, 58.8, 59, 58.9, 58.7, 58.8, 58.9, 58.8, 59, 58.7, 58.9, 58.8, 58.7, 58.9]],
  [144, [58.9, 58.9, 58.8, 58.7, 58.8, 58.9, 58.9, 58.9, 58.9, 58.9]],
  [157, [58.9]],
  [159, [58.8, 58.7, 58.6, 58.9, 58.9, 58.9, 58.9, 58.8, 58.8, 58.9, 58.9, 58.9, 58.9, 58.8, 58.9, 58.9, 58.9]],
  [177, [58.9, 58.9, 58.9, 58.8, 58.9, 58.9, 58.8]],
  [185, [58.9, 58.9, 58.9, 58.9, 58.9, 58.9, 58.9, 58.9, 58.9, 58.9]],
  [198, [59.1, 59.2, 59, 59.1, 59.1, 59.2, 59, 59.1, 59.1, 59, 59.2, 59.1, 59, 59.1, 59.2, 59.1, 59, 59.1, 59.1, 59, 59.2, 59.1, 59.1, 59, 59.1, 59.2, 59, 59.1, 59.1, 59.2, 59, 59.1, 59.1, 59, 59.2, 59.1, 59, 59.1, 59.2, 59.1, 59, 59.1, 59.1, 59.2, 59, 59.1, 59.1, 59, 59.1, 59.2, 59, 59.1, 59]],
  [260, [58.9, 58.9, 58.7, 58.8, 58.6, 58.6, 59, 59, 59, 58.9, 58.7, 58.8, 58.8, 59, 58.8, 58.9, 58.8]],
  [281, [58.9]],
  [283, [58.7, 58.9, 58.8, 58.6, 58.5, 58.8, 59, 58.7]],
  [292, [58.9]],
];

const tiEvents: Ev[] = [
  [18, 118.6], [19, 118.7], [40, 240.1], [48, 239.7], [51, 179.4], [71, 179.4], [176, 118.9], [184, 118.9],
  [19, 298.6], [20, 298.2], [21, 298.5], [22, 298.5], [23, 298.5], [24, 298.6], [25, 298.5], [26, 298.4],
  [30, 299], [31, 299], [32, 299], [33, 299], [34, 299], [35, 299], [39, 299.5], [42, 299.6],
  [49, 299.6], [50, 299.6], [51, 299.6], [52, 299.6], [53, 299.6], [54, 299.6], [55, 299.6], [56, 299.6], [57, 299.6], [58, 299.6],
  [85, 299.8], [99, 299.8], [157, 299.8],
  [28, -1.5], [29, -1.5], [37, -1.5], [38, -1.5], [39, -1.5], [42, -1.5], [110, -1.5], [195, -1.1], [196, -1.1], [197, -1.1],
];
const icEvents: Ev[] = [
  [1, 171.4], [1, 186.3], [6, 39], [11, 56.4], [11, 160.6], [13, 36.2], [13, 142.1], [13, 172.2], [13, 204.8], [14, 162.5], [14, 252.1], [15, 113.4], [17, 283.9], [18, 76], [22, 60.2], [23, 185.2], [23, 208.2], [25, 35.8],
  [28, 259.2], [31, 78.8], [31, 86.9], [38, 85.7], [40, 271.9], [40, 298.8], [41, 2.6], [41, 7.1], [41, 41.3], [44, 218.9], [46, 260.1], [46, 284.9], [49, 40],
  [53, 80.2], [53, 82.8], [56, 75.7], [61, 116.3], [66, 203.4], [69, 292.6], [73, 212.8], [75, 75.9], [76, 112.6], [82, 51.1], [85, 141.5], [92, 85.7], [93, 45], [115, 224.6], [118, 96.7], [121, 130.5], [121, 139.9], [122, 168.8], [123, 261.7], [131, 199.8], [134, 47], [138, 229.1], [141, 174.1], [144, 249.5],
  [148, 149.7], [150, 150.9], [152, 83.4],
  [159, 106.3], [160, 120.3], [161, 44.7], [161, 163.9], [161, 203.5], [162, 34.1], [163, 207.8], [164, 85.9], [165, 113.5], [165, 165.3], [165, 175], [167, 265], [168, 240.3], [171, 237.6], [171, 245.6], [172, 7.7], [175, 251.1], [175, 284.3],
  [176, 11.6], [176, 78], [176, 102.6], [176, 162.7], [177, 202.8], [177, 269.5], [178, 67.3], [178, 109.9], [178, 167.6], [178, 203], [179, 30.5], [180, 190.4], [180, 191.3], [180, 252.3], [181, 149.3], [182, 261.5], [182, 271], [182, 277], [183, 133.2], [183, 140.4], [183, 161.9], [183, 239.5], [184, 20.4], [185, 235.4], [185, 272.4], [186, 3], [189, 285.2], [191, 35.6], [192, 28.9],
  [195, 75.4], [196, 133], [199, 130.4], [200, 31.5], [200, 61.8], [201, 121], [201, 214.4], [201, 288.8], [202, 45], [202, 123.2], [204, 18.9], [210, 255.9], [211, 81.5], [216, 139.4], [219, 95.3], [222, 223.1], [223, 8.4], [223, 216.5], [224, 121.3], [227, 37], [227, 197.3], [227, 202.7], [228, 104],
  [240, 242.5], [241, 159], [242, 124.4], [245, 183.9], [245, 210.4], [246, 183.9], [246, 194.9], [246, 282], [247, 59.2], [248, 196.9], [250, 79.6], [252, 181], [254, 133.8], [255, 36], [256, 67.8], [258, 91.4], [261, 60.6], [261, 114.2], [262, -0.8], [262, 7.1], [267, 64.7], [267, 174.5], [268, 205.5], [268, 225.4], [269, 249.9], [272, 2.5], [273, 14.7], [273, 223.4], [273, 260.1], [274, 96.2], [274, 108.6], [274, 152.1], [274, 263.3], [275, 193.7], [275, 271.5], [275, 278.4], [276, 282], [279, 124.4],
  [280, 83.6], [280, 207.1], [281, 54], [281, 86.2], [281, 92.9], [281, 201.8], [283, 27.6], [283, 60.4], [283, 72.9], [283, 84.5], [284, 24.7], [284, 99.7], [287, 122.4], [288, 243.8], [292, 161.1],
];
const vtEvents: Ev[] = [
  [36, 85.7], [36, 89.4], [36, 112.2], [36, 139.9], [36, 264.5], [44, 37.2], [52, 123.5], [53, 71], [55, 215.7],
  [157, 97.9], [157, 133.7], [157, 193], [157, 234.4], [157, 273], [157, 293.4], [158, 30.9], [158, 56.3], [158, 101.7], [158, 143.1], [160, 293.5],
  [161, 91.4], [161, 93.1], [161, 99], [161, 100.6], [161, 102.7], [161, 111.2], [161, 173.7], [161, 229.9], [162, 0.2], [162, 162.7], [162, 192.2], [162, 273.5],
  [163, 21], [163, 61.5], [163, 81.2], [165, 265.8], [165, 277], [165, 297.8], [166, 18.1], [166, 34.4], [166, 61], [166, 87.6], [166, 147.8], [166, 175.2], [166, 205.7], [166, 243.1], [166, 283.2],
  [167, 39.1], [167, 98.6], [167, 110.3], [167, 122.3], [167, 128.2], [168, 53.1], [168, 78.8], [168, 112.4], [168, 133.7], [168, 170.3],
  [169, 9.7], [169, 37.4], [169, 65.8], [169, 98.8], [169, 135.3], [169, 164.6], [169, 203.3], [169, 244.6], [169, 282.5],
  [170, 2.4], [170, 31], [170, 58.4], [170, 94.6], [170, 120.5], [170, 136.5], [170, 236.2], [170, 265.6], [171, 6.2], [171, 72.7], [171, 100.4],
  [173, 51.2], [173, 80.7], [173, 111.6], [173, 156.9], [173, 187.8], [173, 217], [174, 230], [174, 263.3], [175, 2.8], [175, 39.8], [175, 69.7], [175, 99], [175, 141.3],
  [179, 205.5], [181, 288], [182, 14], [182, 43.6], [182, 112.2], [187, 232.7], [187, 264], [188, 0.3],
  [208, 286.8], [208, 290.3], [209, 272.3], [263, 84.1], [280, 69.9], [280, 76.8], [281, 179.8],
];
const lpEvents: Ev[] = [
  [16, 61.4], [16, 270.8], [19, 275.1], [19, 281.5], [41, 34.4], [45, 124.8], [45, 166.8], [45, 177.4], [45, 195.3], [45, 207.5], [45, 238.5], [46, 232.8], [59, 108.4],
  [102, 155.8], [102, 198.5], [110, 98.3], [154, 159], [154, 228.3], [154, 237.3], [156, 173.3], [169, 270.7], [171, 48.8], [176, 37], [184, 94.1], [189, 275], [221, 23.2],
  [252, 11.5], [252, 19.3], [252, 60.4], [277, 170.8], [277, 176.5], [277, 261.3], [277, 287.4], [278, 0.6],
];
const trEvents: Ev[] = [
  [16, 101.1], [16, 291.8], [41, 62.5], [43, 151.3], [46, 244.2], [47, 222.2], [59, 129.7], [70, 66.5], [78, 67.4], [96, 147.2], [102, 241.7], [110, 128.9], [154, 207.5], [156, 199.4], [168, 26.4], [252, 95.5], [277, 194.9], [278, 41.2], [282, 43], [292, 206.7],
];
const tlEvents: Ev[] = [
  [14, 257.3], [23, 120.7], [28, 104], [28, 107.3], [28, 114.2], [28, 124], [28, 130.1], [28, 142.3], [28, 149.2], [28, 160.7], [33, 73.9], [33, 127.2], [44, 85.7], [47, 201.8], [62, 40.3], [67, 3.9], [117, 57.2],
  [162, 61.6], [168, 224.5], [190, 36.2], [194, 133.7], [194, 182.5], [228, 10.1], [256, 254.4], [277, 21.5], [284, 158.6], [290, 286.1],
];
const reEvents: Ev[] = [
  [15, 242.4], [24, 139.7], [49, 228.3], [58, 97], [62, 254.4], [86, 49.8], [100, 67.4], [115, 292.2], [120, 265.4], [164, 265.6], [176, 285.7], [186, 255.1], [200, 280.8], [246, 29.9], [254, 259.7], [262, 158.2], [263, 75.4], [265, 180.2], [278, 219.3], [285, 163.9],
];
const dsEvents: Ev[] = [
  [32, 73.9], [63, 157.4], [104, 105.7], [106, 132.5], [107, 151.3], [118, 8.7], [133, 240.5], [146, 88.3], [148, 2], [155, 39.2], [158, 70.2], [166, 94.8], [175, 123], [176, 173.8], [179, 214.7], [224, 187.7], [261, 229.9], [264, 53.2],
];
const avEvents: Ev[] = [
  [159, 261.8], [164, 11.1], [164, 68], [172, 139.3], [187, 181.7], [215, 145.6], [256, 36.4], [270, 36.6], [277, 117.1], [282, 194.5], [288, 52.9],
];
const caEvents: Ev[] = [
  [225, 121.7], [253, 182.2], [254, 0.5], [255, 128.5], [261, 269.4], [263, 238], [265, 104.6], [286, 140.7],
];
const exEvents: Ev[] = [[74, 4.2]];

const x = d3.scaleLinear().domain([0, 300]).range([12, 1912]);
const y = d3.scaleLinear().domain([0, 288]).range([56.5, 3751.5]);

const stepLine = d3.line<[number, number]>().x(d => d[0]).y(d => d[1]).curve(d3.curveStepAfter);
const waveLine = d3.line<[number, number]>().x(d => d[0]).y(d => d[1]).curve(d3.curveCatmullRom.alpha(0.5));
const rawLine = d3.line<[number, number]>().x(d => d[0]).y(d => d[1]);

function tracePath(row: number, values: number[], gen: d3.Line<[number, number]>, fromSec = 0.6, toSec = 299.7, snap = false) {
  const pos = d3.scaleLinear().domain([0, values.length - 1]).range([fromSec, toSec]);
  const base = snap ? Math.floor(y(row)) + 0.5 : y(row);
  return gen(values.map((v, i) => [x(pos(i)), base + v] as [number, number])) || '';
}

function gainOf(row: number) {
  const band = waveBandGain.find(b => row >= b[0] && row <= b[1]);
  return band ? band[2] : 1;
}

function tickColor(row: number) {
  if (row === 0 || row === 288) return '#8b0000';
  if (row === 144) return '#008000';
  if (row % 12 === 0) return '#0000ff';
  if (row % 6 === 0) return '#ff0000';
  return '#ff4500';
}

const Dots: React.FC<{ data: Ev[]; fill: string }> = ({ data, fill }) => (
  <g fill={fill} stroke="#000" strokeWidth={1.1}>
    {data.map((d, i) => (
      <circle key={i} cx={x(d[1])} cy={y(d[0]) + 0.5} r={6.3} />
    ))}
  </g>
);

const Legend: React.FC<{ title: string; titleX: number; left: number; names: string[]; colors: string[] }> = ({ title, titleX, left, names, colors }) => (
  <g fontFamily={SERIF}>
    <text x={titleX} y={3962} fontSize={15.5} fontWeight="bold">{title}</text>
    {names.map((n, i) => (
      <g key={n}>
        <circle cx={left + 12.3 + i * 30} cy={3977.3} r={6} fill={colors[i]} stroke="#000" strokeWidth={1} />
        <text x={left + i * 30} y={4001.5} fontSize={16}>{n}</text>
      </g>
    ))}
  </g>
);

export default function App() {
  const rows = d3.range(ROW_COUNT);
  const tiAll: Ev[] = tiColumn.flatMap(([first, secs]) => secs.map((s, i) => [first + i, s] as Ev)).concat(tiEvents);

  return (
    <svg width={W} height={H} viewBox={`0 0 ${W} ${H}`} style={{ position: 'absolute', left: 0, top: 0, display: 'block', background: '#fff' }}>
      <g fontFamily={SERIF} fontSize={16} fill="#0000ff">
        <text x={853} y={18}>QUIN</text>
        <text x={913.5} y={18}>2021/03/04 00:00</text>
        <text x={1051} y={18}>(1)</text>
        <text x={1086} y={18}>[35000]</text>
      </g>

      {/* traces */}
      <g fill="none" stroke="#000" strokeWidth={1.25} strokeLinejoin="round">
        {earlyTraces.map((v, i) => (
          <path key={i} d={tracePath(i, v, stepLine, 0.6, 299.7, true)} />
        ))}
        {noonTraces.map((v, i) => (
          <path key={i} d={tracePath(143 + i, v, stepLine, i === 0 ? noonStartSec : 0.6, 299.7, true)} />
        ))}
        {waveTraces.map((v, i) => {
          const row = FIRST_WAVE_ROW + i;
          return <path key={i} d={tracePath(row, v.map(d => d * gainOf(row)), waveLine)} strokeWidth={1.35} />;
        })}
        {lateTraces.map((v, i) => {
          const smooth = i >= 12 && i < 20;
          return <path key={i} d={tracePath(FIRST_LATE_ROW + i, v, smooth ? waveLine : stepLine, 0.6, 299.7, !smooth)} />;
        })}
        {burstRows.map(([row, from, to, v]) => (
          <path key={row} d={tracePath(row, v, rawLine, from, to)} strokeWidth={1} />
        ))}
      </g>

      {/* minute ticks */}
      <g fill="none">
        {rows.flatMap(r => tickMinutes.map(m => {
          if (m > 0 && r === 288) return null;
          const left = x(m * 60) - 2;
          const yy = y(r);
          if (m === 0 && tickColor(r) !== '#ff4500') {
            const w = r === 0 || r === 288 ? 21 : r === 144 ? 15 : r % 12 === 0 ? 11 : 9;
            const h = r % 6 === 0 && r % 12 !== 0 ? 8 : 9;
            return (
              <path key={`${r}-${m}`} d={`M${left - 0.5},${yy}V${yy - h}H${left - 0.5 + w}V${yy}`} stroke={tickColor(r)} strokeWidth={r % 12 === 0 ? 1.6 : 1.2} />
            );
          }
          return <path key={`${r}-${m}`} d={`M${left},${yy}V${yy - 5}H${left + 5}V${yy}`} stroke="#ff4500" strokeWidth={1} />;
        }))}
      </g>

      {/* hour labels */}
      <g fontFamily={SERIF} fontSize={14} fontWeight="bold" fill="#0000ff">
        {hourLabels.map((l, i) => {
          const r = (i + 1) * 24;
          return (
            <g key={l}>
              <rect x={29} y={y(r) - 12} width={36} height={14} fill="#fff" />
              <text x={31} y={y(r) - 0.5}>{l}</text>
            </g>
          );
        })}
      </g>

      <Dots data={icEvents} fill="#d9d9d9" />
      <Dots data={dsEvents} fill="#c8ad84" />
      <Dots data={reEvents} fill="#696969" />
      <Dots data={caEvents} fill="#4a2c50" />
      <Dots data={avEvents} fill="#1f8a66" />
      <Dots data={exEvents} fill="#8b2bb0" />
      <Dots data={trEvents} fill="#1e90ff" />
      <Dots data={lpEvents} fill="#ffff00" />
      <Dots data={vtEvents} fill="#ff0000" />
      <Dots data={tlEvents} fill="#0000ff" />
      <Dots data={tiAll} fill="#00ffff" />

      <Legend title="Sismos Volcánicos" titleX={63} left={33} names={volcanicNames} colors={volcanicColors} />
      <Legend title="Sismos No Volcánicos" titleX={1733} left={1713} names={otherNames} colors={otherColors} />
    </svg>
  );
}
